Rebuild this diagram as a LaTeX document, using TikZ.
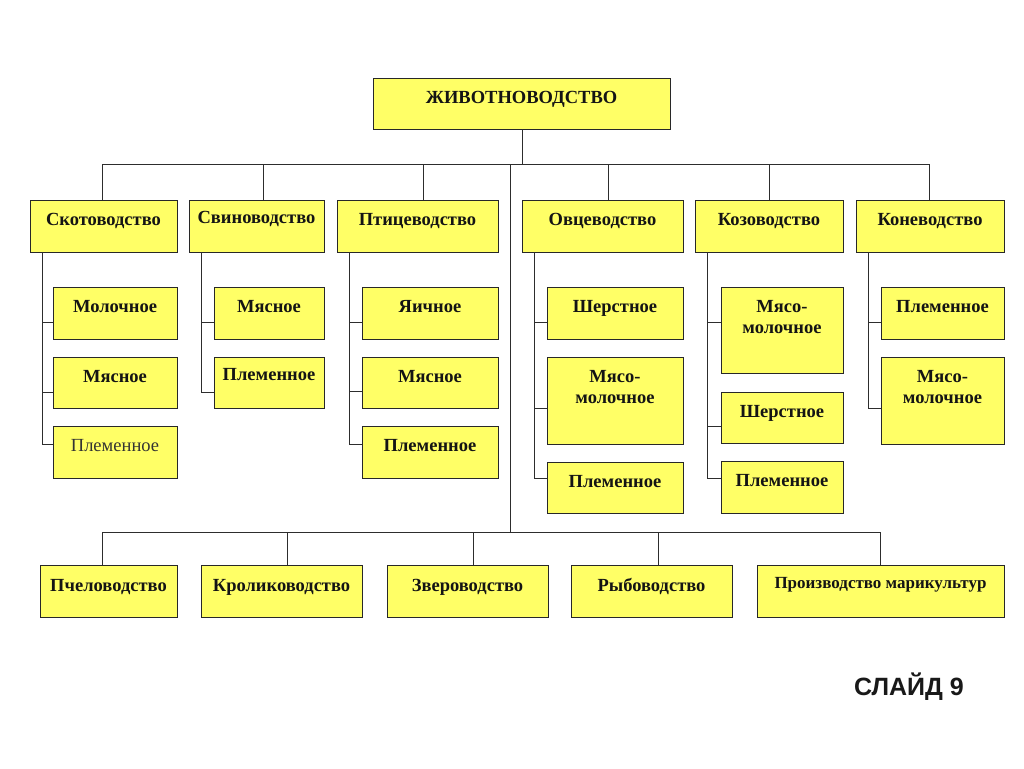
\documentclass[tikz,border=0pt]{standalone}
\usepackage{fontspec}
\setmainfont{Liberation Serif}
\newfontfamily\slidefont{Liberation Sans}
\definecolor{boxfill}{RGB}{255,255,102}
\definecolor{boxline}{RGB}{40,40,40}
\definecolor{conn}{RGB}{45,45,45}
\definecolor{txt}{RGB}{20,20,20}
\tikzset{
  box/.style={draw=boxline,fill=boxfill,line width=0.9pt,inner sep=0pt,outer sep=0pt},
  lbl/.style={inner sep=0pt,outer sep=0pt,align=center,text=txt,font=\fontsize{18.5}{21}\selectfont\bfseries},
  link/.style={draw=conn,line width=0.9pt}
}
\newcommand\bx[7][25]{%
  \node[box,minimum width={(#5-#3)*1pt},minimum height={(#6-#4)*1pt}] (#2) at ({(#3+#5)/2},{(#4+#6)/2}) {};
  \node[lbl,anchor=base] (#2t) at ([yshift=-#1pt]#2.north) {#7};}
\begin{document}
\begin{tikzpicture}[x=1pt,y=-1pt]
\useasboundingbox[fill=white] (0,0) rectangle (1024,768);
% root
\bx{root}{373}{78}{670}{129}{ЖИВОТНОВОДСТВО}
% row 1
\bx{skot}{30}{200}{177}{252}{Скотоводство}
\bx[23]{svin}{189}{200}{324}{252}{Свиноводство}
\bx{pti}{337}{200}{498}{252}{Птицеводство}
\bx{ovc}{522}{200}{683}{252}{Овцеводство}
\bx{koz}{695}{200}{843}{252}{Козоводство}
\bx{kon}{856}{200}{1004}{252}{Коневодство}
% children
\bx{skA}{53}{287}{177}{339}{Молочное}
\bx{skB}{53}{357}{177}{408}{Мясное}
\bx{skC}{53}{426}{177}{478}{\mdseries\color{black!80}Племенное}
\bx{svA}{214}{287}{324}{339}{Мясное}
\bx[23]{svB}{214}{357}{324}{408}{Племенное}
\bx{ptA}{362}{287}{498}{339}{Яичное}
\bx{ptB}{362}{357}{498}{408}{Мясное}
\bx{ptC}{362}{426}{498}{478}{Племенное}
\bx{ovA}{547}{287}{683}{339}{Шерстное}
\bx[46]{ovB}{547}{357}{683}{444}{Мясо-\\молочное}
\bx{ovC}{547}{462}{683}{513}{Племенное}
\bx[46]{kzA}{721}{287}{843}{373}{Мясо-\\молочное}
\bx{kzB}{721}{392}{843}{443}{Шерстное}
\bx{kzC}{721}{461}{843}{513}{Племенное}
\bx{knA}{881}{287}{1004}{339}{Племенное}
\bx[46]{knB}{881}{357}{1004}{444}{Мясо-\\молочное}
% bottom row
\bx[26]{pch}{40}{565}{177}{617}{Пчеловодство}
\bx[26]{krol}{201}{565}{362}{617}{Кролиководство}
\bx[26]{zver}{387}{565}{548}{617}{Звероводство}
\bx[26]{ryb}{571}{565}{732}{617}{Рыбоводство}
\bx[23]{mar}{757}{565}{1004}{617}{\fontsize{17}{20}\selectfont Производство марикультур}
% top bus
\coordinate (tb) at (522,164);
\coordinate (t1) at (510,164);
\coordinate (t2) at (510,532);
\draw[link] (root.south -| tb) -- (tb);
\draw[link] ([xshift=-1.5pt]skot.north) -- ([xshift=-1.5pt]skot.north |- tb) -- ([xshift=-1pt]kon.north |- tb) -- ([xshift=-1pt]kon.north);
\foreach \n/\s in {svin/6.5,pti/5.5,ovc/5.5,koz/0}{
  \draw[link] ([xshift=\s pt]\n.north) -- ([xshift=\s pt]\n.north |- tb);
}
% trunk
\draw[link] (t1) -- (t2);
% bottom bus
\draw[link] ([xshift=-6.5pt]pch.north) -- ([xshift=-6.5pt]pch.north |- t2) -- (mar.north |- t2) -- (mar.north);
\foreach \n/\s in {krol/5.5,zver/5.5,ryb/6.5}{
  \draw[link] ([xshift=\s pt]\n.north) -- ([xshift=\s pt]\n.north |- t2);
}
% spines
\foreach \p/\c/\o in {skot/skA/-9,skot/skB/-9.5,skot/skC/8,
                      svin/svA/-9,svin/svB/-9.5,
                      pti/ptA/-9,pti/ptB/-8.5,pti/ptC/8,
                      ovc/ovA/-9,ovc/ovB/-7.5,ovc/ovC/9.5,
                      koz/kzA/8,koz/kzB/-8.5,koz/kzC/9,
                      kon/knA/-9,kon/knB/-7.5}{
  \draw[link] ([xshift=12pt]\p.south west) |- ([yshift=\o pt]\c.west);
}
% slide label
\node[inner sep=0pt,font=\slidefont\bfseries\fontsize{25}{30}\selectfont,text=black!90] (slide) at (909,687) {СЛАЙД 9};
\end{tikzpicture}
\end{document}
